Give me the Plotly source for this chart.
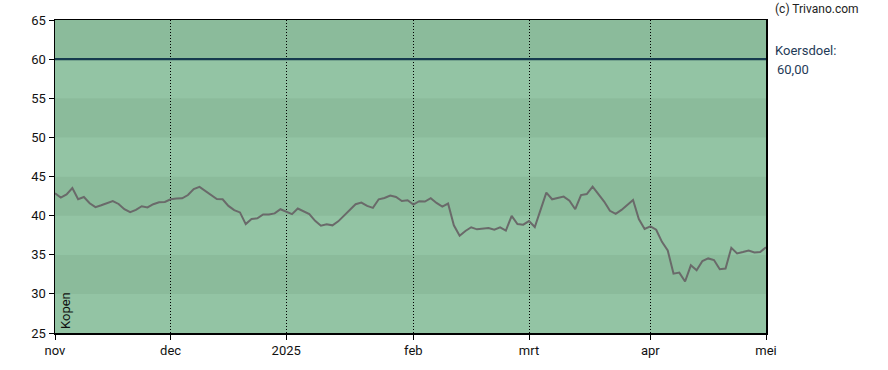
import plotly.graph_objects as go

# Koers (closing prices), one value per trading day, Nov 2024 - Apr 2025
koers = [
    42.85, 42.30, 42.72, 43.52, 42.09, 42.38, 41.58, 41.08, 41.33, 41.62,
    41.87, 41.49, 40.82, 40.44, 40.73, 41.20, 41.04, 41.46, 41.71, 41.75,
    42.09, 42.18, 42.22, 42.63, 43.39, 43.67, 43.14, 42.63, 42.13, 42.09,
    41.24, 40.70, 40.41, 38.92, 39.56, 39.65, 40.15, 40.15, 40.28, 40.82,
    40.48, 40.19, 40.91, 40.57, 40.19, 39.34, 38.71, 38.89, 38.76, 39.27,
    39.97, 40.73, 41.46, 41.67, 41.24, 40.99, 42.09, 42.25, 42.56, 42.38,
    41.87, 41.96, 41.42, 41.84, 41.80, 42.22, 41.62, 41.16, 41.54, 38.76,
    37.44, 38.04, 38.51, 38.25, 38.29, 38.42, 38.20, 38.51, 38.08, 39.97,
    38.92, 38.84, 39.30, 38.54, 40.73, 42.94, 42.09, 42.22, 42.43, 41.92,
    40.82, 42.63, 42.76, 43.70, 42.72, 41.80, 40.61, 40.23, 40.73, 41.37,
    42.00, 39.56, 38.29, 38.63, 38.20, 36.65, 35.54, 32.59, 32.72, 31.58,
    33.65, 33.01, 34.20, 34.53, 34.33, 33.14, 33.23, 35.89, 35.16, 35.34,
    35.54, 35.29, 35.34, 35.97,
]
dag = list(range(len(koers)))

# Month starts (trading-day index) and labels
maand_pos = [0, 20, 40, 62, 82, 103, 123]
maand_lbl = ["nov", "dec", "2025", "feb", "mrt", "apr", "mei"]

y_ticks = [25, 30, 35, 40, 45, 50, 55, 60, 65]
koersdoel = 60.0
advies = "Kopen"

band_dark = "#8bbb9b"
band_light = "#93c4a4"

fig = go.Figure()

# Alternating horizontal bands
shapes = []
for lo, hi in zip(y_ticks[:-1], y_ticks[1:]):
    col = band_dark if (lo // 5) % 2 == 0 else band_light
    shapes.append(dict(type="rect", xref="paper", yref="y", x0=0, x1=1, y0=lo, y1=hi,
                       fillcolor=col, line=dict(width=0), layer="below"))

# Target price line
shapes.append(dict(type="line", xref="paper", yref="y", x0=0, x1=1, y0=koersdoel, y1=koersdoel,
                   line=dict(color="#163a4e", width=2.2), layer="above"))

fig.add_trace(go.Scatter(x=dag, y=koers, mode="lines",
                         line=dict(color="#6a6a6a", width=2), hoverinfo="skip"))

fig.update_layout(
    width=888, height=370,
    margin=dict(l=55, r=122, t=20, b=34),
    paper_bgcolor="white",
    plot_bgcolor=band_light,
    showlegend=False,
    hovermode=False,
    font=dict(family="Roboto, Arial, sans-serif", size=13, color="#111"),
    shapes=shapes,
    xaxis=dict(
        range=[0, len(koers) - 1], tickvals=maand_pos, ticktext=maand_lbl,
        showgrid=True, gridcolor="black", griddash="1px,2px", gridwidth=1,
        ticks="outside", ticklen=5, tickcolor="black",
        showline=True, linecolor="black", linewidth=1.5, mirror=True,
        zeroline=False, layer="above traces",
    ),
    yaxis=dict(
        range=[25, 65], tickvals=y_ticks,
        showgrid=False, ticks="outside", ticklen=5, tickcolor="black",
        showline=True, linecolor="black", linewidth=1.5, mirror=True,
        zeroline=False,
    ),
    annotations=[
        dict(text="(c) Trivano.com", xref="paper", yref="paper", x=1.01, y=1.0,
             xanchor="left", yanchor="bottom", yshift=2, showarrow=False,
             font=dict(size=12, color="#222")),
        dict(text="Koersdoel:", xref="paper", yref="y", x=1.01, y=koersdoel,
             xanchor="left", yanchor="middle", yshift=9, showarrow=False,
             font=dict(size=13, color="#1f3b57")),
        dict(text="60,00", xref="paper", yref="y", x=1.01, y=koersdoel,
             xanchor="left", yanchor="middle", yshift=-10, xshift=2, showarrow=False,
             font=dict(size=13, color="#1f3b57")),
        dict(text=advies, xref="paper", yref="paper", x=0, y=0,
             xanchor="left", yanchor="bottom", xshift=1, yshift=2, textangle=-90,
             showarrow=False, font=dict(size=13, color="#111")),
    ],
)

fig.write_html("out.html", config={"displayModeBar": False, "staticPlot": True},
               post_script="document.body.style.margin='0px';")
